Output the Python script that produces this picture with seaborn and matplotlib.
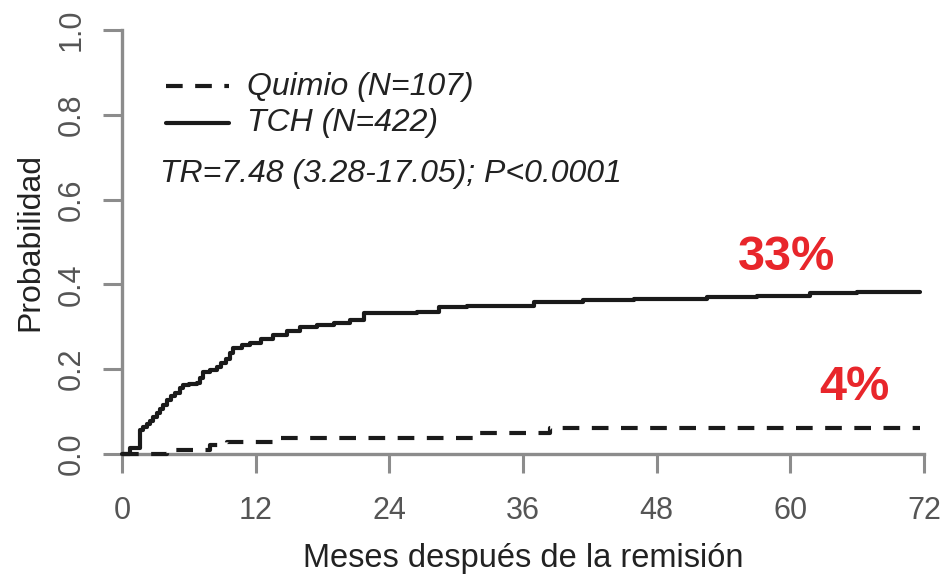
import matplotlib
matplotlib.use("Agg")
import matplotlib.pyplot as plt
import seaborn as sns
import pandas as pd
import numpy as np

# ---- data ----
tch_months = [0, 0.7, 1.6, 1.9, 2.2, 2.5, 2.8, 3.1, 3.4, 3.7, 4.0, 4.4, 4.8, 5.2,
              5.5, 6.0, 6.7, 7.0, 7.3, 7.9, 8.5, 8.9, 9.3, 9.7, 10.0, 10.8,
              11.5, 12.5, 13.6, 14.8, 16.0, 17.5, 19.0, 20.5, 21.7, 24.0, 26.5,
              28.5, 31.0, 34.0, 37.0, 41.4, 46.0, 52.5, 57.0, 61.8, 66.0, 69.0, 71.6]
tch_prob = [0, 0.014, 0.057, 0.063, 0.070, 0.079, 0.087, 0.096, 0.105, 0.116,
            0.127, 0.136, 0.145, 0.155, 0.163, 0.165, 0.167, 0.180, 0.193, 0.199,
            0.205, 0.215, 0.225, 0.238, 0.250, 0.256, 0.262, 0.272, 0.281, 0.291,
            0.300, 0.305, 0.310, 0.316, 0.332, 0.333, 0.335, 0.347, 0.348, 0.350,
            0.358, 0.363, 0.366, 0.370, 0.372, 0.380, 0.381, 0.382, 0.382]
quimio_months = [0, 4.0, 7.9, 9.4, 14.2, 31.5, 38.4, 71.6]
quimio_prob = [0, 0.010, 0.021, 0.028, 0.038, 0.050, 0.062, 0.062]

x_ticks = [0, 12, 24, 36, 48, 60, 72]
y_ticks = [0.0, 0.2, 0.4, 0.6, 0.8, 1.0]
y_tick_labels = ["0.0", "0.2", "0.4", "0.6", "0.8", "1.0"]

legend_labels = ["Quimio (N=107)", "TCH (N=422)"]
stat_text = "TR=7.48 (3.28-17.05); P<0.0001"
pct_labels = ["33%", "4%"]

df = pd.concat([
    pd.DataFrame({"mes": quimio_months, "prob": quimio_prob, "grupo": legend_labels[0]}),
    pd.DataFrame({"mes": tch_months, "prob": tch_prob, "grupo": legend_labels[1]}),
])

sns.set_style("white")
plt.rcParams["font.family"] = ["Liberation Sans", "DejaVu Sans"]

W, H = 947, 575
fig = plt.figure(figsize=(W / 100, H / 100), dpi=100)
ax = fig.add_axes([122 / W, 1 - 454 / H, (924 - 122) / W, (454 - 30) / H])

axis_gray = "#8c8c8c"
tick_gray = "#555555"
ink = "#1a1a1a"

sns.lineplot(data=df, x="mes", y="prob", hue="grupo", style="grupo",
             palette={legend_labels[0]: ink, legend_labels[1]: ink},
             dashes={legend_labels[0]: (4, 3), legend_labels[1]: ""},
             drawstyle="steps-post", linewidth=3.0, legend=False, ax=ax,
             estimator=None, sort=False, clip_on=False, zorder=3)

ax.set_xlim(0, 72)
ax.set_ylim(0, 1)
for s in ["top", "right"]:
    ax.spines[s].set_visible(False)
for s in ["left", "bottom"]:
    ax.spines[s].set_color(axis_gray)
    ax.spines[s].set_linewidth(2.4)
ax.set_xticks(x_ticks)
ax.set_xticklabels([str(t) for t in x_ticks])
ax.set_yticks(y_ticks)
ax.set_yticklabels(y_tick_labels, rotation=90, va="center")
ax.tick_params(axis="both", direction="out", length=13.5, width=2.2,
               color=axis_gray, labelcolor=tick_gray, labelsize=22,
               bottom=True, left=True)
ax.tick_params(axis="x", pad=17)
ax.tick_params(axis="y", pad=12)

ax.set_xlabel("Meses después de la remisión", fontsize=23.5, color="#222222", labelpad=12)
ax.set_ylabel("Probabilidad", fontsize=23, color="#222222", labelpad=8)

def fx(px):
    return px / W

def fy(py):
    return 1 - py / H

fig.add_artist(plt.Line2D([fx(166), fx(229)], [fy(86), fy(86)], color=ink,
                          lw=3.0, dashes=(4, 3)))
fig.add_artist(plt.Line2D([fx(166), fx(229)], [fy(123), fy(123)], color=ink,
                          lw=3.0))
fig.text(fx(247), fy(87), legend_labels[0], fontsize=23, style="italic",
         color="#222222", va="center", ha="left")
fig.text(fx(247), fy(123), legend_labels[1], fontsize=23, style="italic",
         color="#222222", va="center", ha="left")
fig.text(fx(160), fy(174), stat_text, fontsize=23, style="italic",
         color="#222222", va="center", ha="left")

red = "#e8262b"
fig.text(fx(787), fy(258), pct_labels[0], fontsize=35, fontweight="bold",
         color=red, va="center", ha="center")
fig.text(fx(854), fy(388), pct_labels[1], fontsize=35, fontweight="bold",
         color=red, va="center", ha="center")

fig.savefig("out.png", dpi=100)
